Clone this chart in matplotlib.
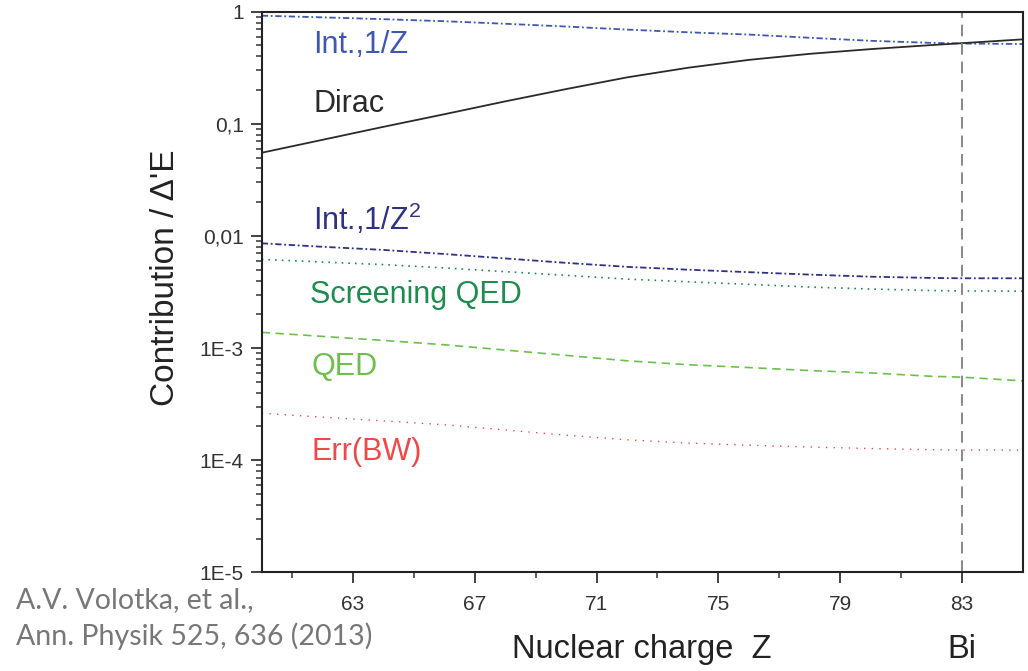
import matplotlib
matplotlib.use('Agg')
import matplotlib.pyplot as plt
from matplotlib.ticker import LogLocator, NullFormatter, FixedLocator
import matplotlib.transforms as mtransforms

#Data (nuclear charge Z vs contribution / dE')
Z = [60, 62, 64, 66, 68, 70, 72, 74, 76, 78, 80, 82, 83, 85]
dirac = [0.0552, 0.0720, 0.0940, 0.1217, 0.1585, 0.204, 0.2594, 0.316, 0.3715, 0.4207, 0.4634, 0.5035, 0.5236, 0.5662]
int_1z = [0.921, 0.890, 0.857, 0.822, 0.780, 0.737, 0.692, 0.655, 0.625, 0.585, 0.550, 0.527, 0.520, 0.515]
int_1z2 = [0.00859, 0.0080, 0.0075, 0.00690, 0.00630, 0.00575, 0.00530, 0.00500, 0.00475, 0.00452, 0.00433, 0.00422, 0.00419, 0.00419]
scr_qed = [0.00618, 0.00585, 0.00555, 0.00518, 0.00480, 0.00445, 0.00412, 0.00390, 0.00370, 0.00350, 0.00336, 0.00326, 0.00323, 0.00322]
qed = [0.00138, 0.00127, 0.00117, 0.00107, 0.00096, 0.00086, 0.00077, 0.00071, 0.00067, 0.00063, 0.00060, 0.00056, 0.00055, 0.00051]
err_bw = [0.000262, 0.000242, 0.000224, 0.000207, 0.000186, 0.000167, 0.000152, 0.000142, 0.000136, 0.000131, 0.000127, 0.000124, 0.000123, 0.000123]

xticks = [63, 67, 71, 75, 79, 83]
xminor = [61, 65, 69, 73, 77, 81]
yticks = [1e-5, 1e-4, 1e-3, 1e-2, 1e-1, 1]
ylabels = ['1E-5', '1E-4', '1E-3', '0,01', '0,1', '1']
z_bi = 83

plt.rcParams['font.family'] = ['Liberation Sans', 'DejaVu Sans']

fig = plt.figure(figsize=(10.28, 6.71), dpi=100)
ax = fig.add_axes([0.2546, 0.1471, 0.7402, 0.8355])

#Curves
ax.plot(Z, int_1z, color='#3d57b3', lw=1.3, linestyle=(0, (3.5, 1.5, 1, 1.5)))
ax.plot(Z, dirac, color='#2a2a2a', lw=1.3)
ax.plot(Z, int_1z2, color='#2e3185', lw=1.3, linestyle=(0, (3.5, 1.5, 1, 1.5)))
ax.plot(Z, scr_qed, color='#1e8c4e', lw=1.2, linestyle=(0, (1, 3)))
ax.plot(Z, qed, color='#6cc04a', lw=1.2, linestyle=(0, (5, 3.3)))
ax.plot(Z, err_bw, color='#f04848', lw=1.0, linestyle=(0, (1, 4.5)))

#Bi marker line
ax.axvline(z_bi, color='#888888', lw=1.4, linestyle=(0, (6, 3.5)))

ax.set_xlim(60, 85)
ax.set_ylim(1e-5, 1)
ax.set_yscale('log')

ax.xaxis.set_major_locator(FixedLocator(xticks))
ax.xaxis.set_minor_locator(FixedLocator(xminor))
ax.set_xticklabels([str(t) for t in xticks])
ax.yaxis.set_major_locator(FixedLocator(yticks))
ax.set_yticklabels(ylabels)
ax.yaxis.set_minor_locator(LogLocator(base=10, subs=range(2, 10)))
ax.yaxis.set_minor_formatter(NullFormatter())

ax.tick_params(which='major', direction='out', length=8, width=1.3, colors='#333333', labelsize=15, top=False, right=False)
ax.tick_params(which='minor', direction='out', length=4.5, width=1.1, colors='#333333', top=False, right=False)
ax.tick_params(axis='y', which='major', pad=5)
ax.tick_params(axis='x', which='major', pad=8)

for s in ax.spines.values():
    s.set_linewidth(1.5)
    s.set_color('#222222')

#Curve labels
ax.text(0.0674, 0.9258, 'Int.,1/Z', color='#3d57b3', fontsize=22, transform=ax.transAxes, va='baseline')
ax.text(0.0674, 0.821, 'Dirac', color='#2a2a2a', fontsize=22, transform=ax.transAxes, va='baseline')
ax.text(0.0674, 0.6106, r'Int.,1/Z$^\mathregular{2}$', color='#2e3185', fontsize=22, transform=ax.transAxes, va='baseline')
ax.text(0.0635, 0.4802, 'Screening QED', color='#1e8c4e', fontsize=22, transform=ax.transAxes, va='baseline')
ax.text(0.066, 0.352, 'QED', color='#6cc04a', fontsize=22, transform=ax.transAxes, va='baseline')
ax.text(0.066, 0.2, 'Err(BW)', color='#f04848', fontsize=22, transform=ax.transAxes, va='baseline')

#Axis labels
ax.text(0.5, -0.1529, 'Nuclear charge  Z', fontsize=23.5, color='#222222', transform=ax.transAxes, ha='center', va='baseline')
trans = mtransforms.blended_transform_factory(ax.transData, ax.transAxes)
ax.text(z_bi, -0.1529, 'Bi', fontsize=23.5, color='#222222', transform=trans, ha='center', va='baseline')
ax.text(-0.127, 0.525, "Contribution / Δ'E", fontsize=24, color='#222222', rotation=90, transform=ax.transAxes, ha='center', va='center')

#Reference
fig.text(16 / 1028, 1 - 608 / 671, 'A.V. Volotka, et al.,', fontsize=20.5, color='#777777', family=['Lato', 'DejaVu Sans'], va='baseline')
fig.text(16 / 1028, 1 - 645 / 671, 'Ann. Physik 525, 636 (2013)', fontsize=20.5, color='#777777', family=['Lato', 'DejaVu Sans'], va='baseline')

fig.savefig('out.png', dpi=100)
